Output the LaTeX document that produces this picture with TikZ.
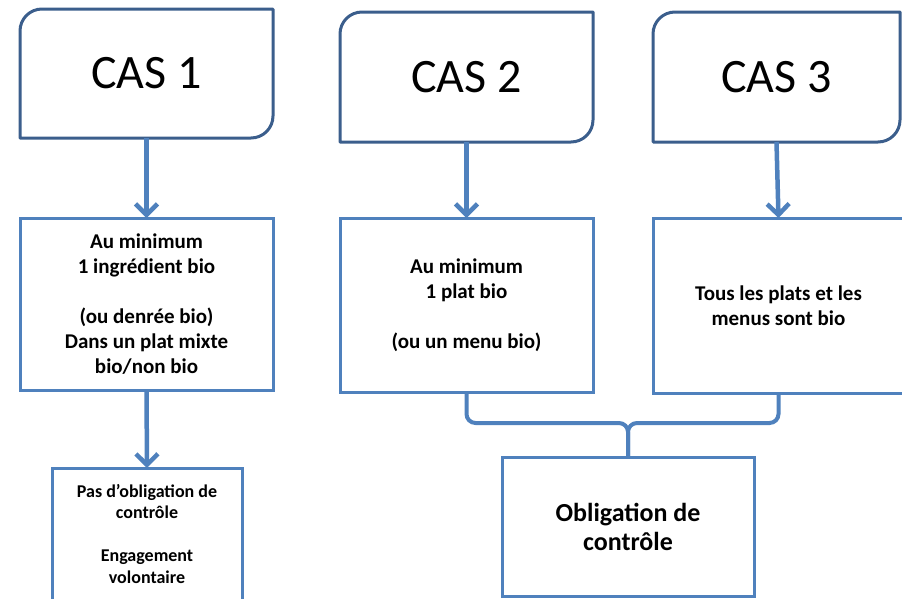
\documentclass[tikz,border=0pt]{standalone}
\usepackage{fontspec}
\setmainfont{Carlito}
\usepackage{tikz}
\usetikzlibrary{arrows.meta}
\definecolor{casblue}{HTML}{3B5E8C}
\definecolor{boxblue}{HTML}{4F81BD}
\tikzset{
casnode/.style={rectangle, inner sep=0pt, outer sep=0pt, font=\fontsize{48}{58}\selectfont},
casline/.style={draw=casblue, line width=3pt, line join=round},
textbox/.style={rectangle, draw=boxblue, line width=3pt, inner sep=0pt, outer sep=0pt, align=center},
flow/.style={draw=boxblue, line width=4.5pt, -{Straight Barb[length=11pt,width=22pt]}},
link/.style={draw=boxblue, line width=4pt, rounded corners=9pt}}

\begin{document}
\begin{tikzpicture}[x=1pt,y=-1pt]
    \useasboundingbox (0,0) rectangle (902,598);

                \node[casnode, minimum width=253pt, minimum height=129pt] (C1) at (146.5,73.5) {CAS 1};
                \node[casnode, minimum width=253pt, minimum height=130pt] (C2) at (466.5,77) {CAS 2};
                \node[casnode, minimum width=247pt, minimum height=130pt] (C3) at (776.5,77) {CAS 3};

                \draw[casline] (C1.south west) -- ([yshift=-22pt]C1.north west) arc[start angle=180, end angle=90, radius=22pt] -- (C1.north east) -- ([yshift=22pt]C1.south east) arc[start angle=0, end angle=-90, radius=22pt] -- cycle;
                \draw[casline] (C2.south west) -- ([yshift=-22pt]C2.north west) arc[start angle=180, end angle=90, radius=22pt] -- (C2.north east) -- ([yshift=22pt]C2.south east) arc[start angle=0, end angle=-90, radius=22pt] -- cycle;
                \draw[casline] (C3.south west) -- ([yshift=-22pt]C3.north west) arc[start angle=180, end angle=90, radius=22pt] -- (C3.north east) -- ([yshift=22pt]C3.south east) arc[start angle=0, end angle=-90, radius=22pt] -- cycle;

                \node[textbox, minimum width=253pt, minimum height=172pt, font=\fontsize{21}{25}\selectfont\bfseries] (B1) at (146.5,304)
                    {Au minimum\\1 ingrédient bio\\[25pt](ou denrée bio)\\Dans un plat mixte\\bio/non bio};
                \node[textbox, minimum width=253pt, minimum height=174pt, font=\fontsize{21}{25}\selectfont\bfseries] (B2) at (466.5,305)
                    {Au minimum\\1 plat bio\\[25pt](ou un menu bio)};
                \node[textbox, minimum width=251pt, minimum height=175pt, font=\fontsize{21}{25}\selectfont\bfseries] (B3) at (778.5,305.5)
                    {Tous les plats et les\\menus sont bio};

                \node[textbox, minimum width=190pt, minimum height=132pt, font=\fontsize{18}{21.5}\selectfont\bfseries] (P) at (147,534)
                    {Pas d’obligation de\\contrôle\\[21.5pt]Engagement\\volontaire};
                \node[textbox, minimum width=252pt, minimum height=139pt, font=\fontsize{26}{29}\selectfont\bfseries] (O) at (628,526.5)
                    {Obligation de\\contrôle};

                \draw[flow] (C1.south) -- (B1.north);
                \draw[flow] (C2.south) -- (B2.north);
                \draw[flow] (C3.south) -- (B3.north);
                \draw[flow] (B1.south) -- (P.north);

                \coordinate (J) at (628,423);
                \draw[link] (B2.south) |- (J) -- (O.north);
                \draw[link] (B3.south) |- (J) -- (O.north);

            \end{tikzpicture}
\end{document}
